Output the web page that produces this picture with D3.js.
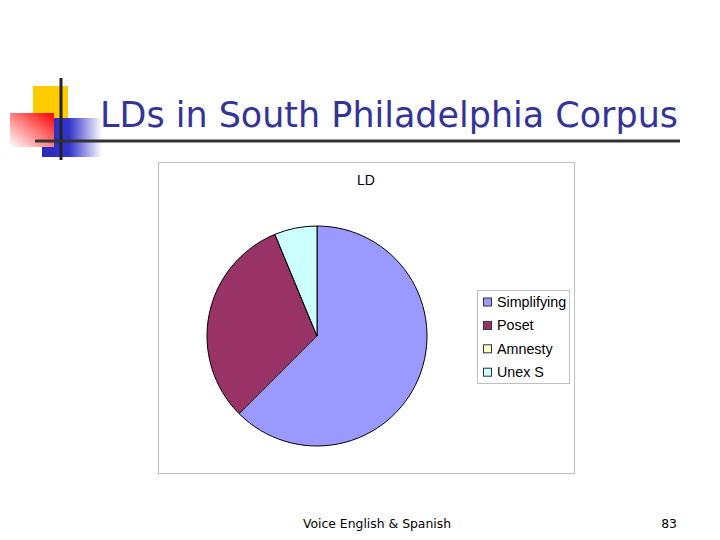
<!DOCTYPE html>
<html>
<head>
<meta charset="utf-8">
<script src="https://cdn.jsdelivr.net/npm/d3@7"></script>
<style>
  body { margin: 0; background: #fff; }
  svg { display: block; }
</style>
</head>
<body>
<div id="chart"></div>
<script>
// LD counts
let categories = ['Simplifying', 'Poset', 'Amnesty', 'Unex S'];
let counts = [10, 5, 0, 1];
let colors = ['#9999FF', '#993366', '#FFFFCC', '#CCFFFF'];

let totalWidth = 720;
let totalHeight = 540;

var svg = d3.select("#chart").append("svg")
    .attr("width", totalWidth)
    .attr("height", totalHeight);

// slide decoration
var defs = svg.append("defs");
var redGrad = defs.append("linearGradient")
    .attr("id", "redGrad")
    .attr("x1", "100%").attr("y1", "0%")
    .attr("x2", "0%").attr("y2", "100%");
redGrad.append("stop").attr("offset", "0%").attr("stop-color", "#ff0000");
redGrad.append("stop").attr("offset", "100%").attr("stop-color", "#ffffff");
var blueGrad = defs.append("linearGradient")
    .attr("id", "blueGrad")
    .attr("x1", "0%").attr("y1", "0%")
    .attr("x2", "100%").attr("y2", "0%");
blueGrad.append("stop").attr("offset", "0%").attr("stop-color", "#2a2ab8");
blueGrad.append("stop").attr("offset", "45%").attr("stop-color", "#3333cc");
blueGrad.append("stop").attr("offset", "100%").attr("stop-color", "#ffffff");

svg.append("rect").attr("x", 33).attr("y", 86).attr("width", 35).attr("height", 34).attr("fill", "#ffcc00");
svg.append("rect").attr("x", 42).attr("y", 118).attr("width", 60).attr("height", 39).attr("fill", "url(#blueGrad)");
svg.append("rect").attr("x", 10).attr("y", 113).attr("width", 44).attr("height", 34).attr("fill", "url(#redGrad)");
svg.append("line").attr("x1", 61).attr("x2", 61).attr("y1", 78).attr("y2", 160)
    .attr("stroke", "#222").attr("stroke-width", 3);
svg.append("line").attr("x1", 35).attr("x2", 680).attr("y1", 141).attr("y2", 141)
    .attr("stroke", "#333").attr("stroke-width", 3);

// title
svg.append("text")
    .attr("x", 100)
    .attr("y", 127)
    .attr("textLength", 578)
    .attr("lengthAdjust", "spacingAndGlyphs")
    .style("font-family", "DejaVu Sans, sans-serif")
    .style("font-size", "35px")
    .style("fill", "#333399")
    .text("LDs in South Philadelphia Corpus");

// chart frame
svg.append("rect")
    .attr("x", 158.5).attr("y", 162.5)
    .attr("width", 416).attr("height", 311)
    .attr("fill", "#fff")
    .attr("stroke", "#c0c0c0");

svg.append("text")
    .attr("x", 366)
    .attr("y", 185)
    .style("text-anchor", "middle")
    .style("font-family", "Liberation Sans, Arial, sans-serif")
    .style("font-size", "14px")
    .text("LD");

// pie
let radius = 110;
var pie = d3.pie().sort(null).value(function(d) { return d; });
var arc = d3.arc().innerRadius(0).outerRadius(radius);
var color = d3.scaleOrdinal().domain(categories).range(colors);

var pieG = svg.append("g")
    .attr("transform", "translate(317,336)");

pieG.selectAll("path")
    .data(pie(counts))
    .enter().append("path")
    .attr("d", arc)
    .attr("fill", function(d, i) { return color(categories[i]); })
    .attr("stroke", "#000")
    .attr("stroke-width", 1)
    .attr("stroke-linejoin", "round");

// legend
var legend = svg.append("g");
legend.append("rect")
    .attr("x", 477.5).attr("y", 290.5)
    .attr("width", 92).attr("height", 93)
    .attr("fill", "#fff")
    .attr("stroke", "#c0c0c0");

var items = legend.selectAll("g.item")
    .data(categories)
    .enter().append("g")
    .attr("class", "item")
    .attr("transform", function(d, i) { return "translate(483," + (302 + i * 23.4) + ")"; });

items.append("rect")
    .attr("x", 0.5).attr("y", -4)
    .attr("width", 8).attr("height", 8)
    .attr("fill", function(d) { return color(d); })
    .attr("stroke", "#333")
    .attr("stroke-width", 1);

items.append("text")
    .attr("x", 14)
    .attr("y", 5)
    .style("font-family", "Liberation Sans, Arial, sans-serif")
    .style("font-size", "14.3px")
    .text(function(d) { return d; });

// footer
svg.append("text")
    .attr("x", 377)
    .attr("y", 528)
    .style("text-anchor", "middle")
    .style("font-family", "DejaVu Sans, sans-serif")
    .style("font-size", "12.4px")
    .text("Voice English & Spanish");
svg.append("text")
    .attr("x", 677)
    .attr("y", 528)
    .style("text-anchor", "end")
    .style("font-family", "DejaVu Sans, sans-serif")
    .style("font-size", "12.4px")
    .text("83");
</script>
</body>
</html>
